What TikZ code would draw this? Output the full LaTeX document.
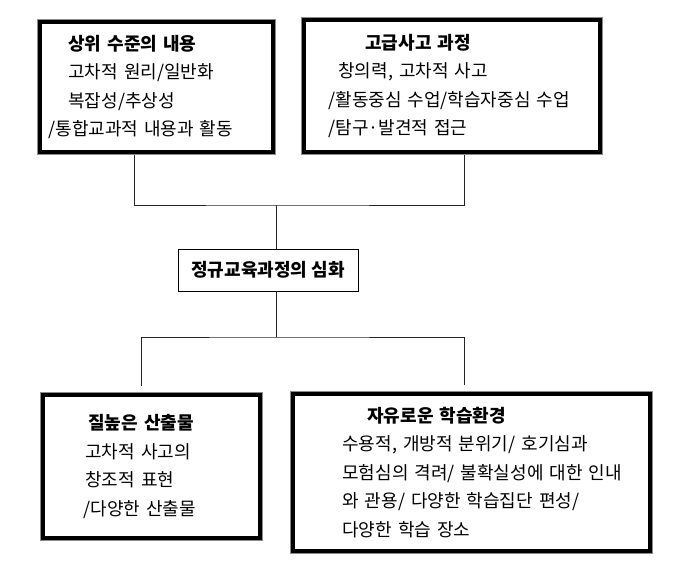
\documentclass[tikz,border=0pt]{standalone}
\usepackage{fontspec}
\setmainfont{Noto Sans CJK KR}
\begin{document}
\begin{tikzpicture}[
        x=1pt, y=1pt,
        every node/.style={font=\fontsize{18}{28.5}\selectfont},
        bigbox/.style={rectangle, draw=black!45, line width=0.8pt, anchor=north west,
            align=left, inner xsep=0pt, inner ysep=0pt,
            execute at begin node={\leftskip=#1\relax\parindent=0pt\relax}},
        corebox/.style={rectangle, draw, line width=0.8pt, minimum width=180pt, minimum height=42pt},
        link/.style={draw=black!85, line width=0.8pt}
    ]
    \useasboundingbox (0,0) rectangle (680,-574);

    \node[bigbox=11pt, text width=238pt, minimum height=135pt] (hi) at (37,-19) {
        \hspace*{20pt}\textbf{상위 수준의 내용}\\
        \hspace*{20pt}고차적 원리/일반화\\
        \hspace*{20pt}복잡성/추상성\\
        /통합교과적 내용과 활동};
    \node[bigbox=27pt, text width=301pt, minimum height=137pt] (pro) at (301,-17) {
        \hspace*{37pt}\textbf{고급사고 과정}\\
        \hspace*{10pt}창의력, 고차적 사고\\
        /활동중심 수업/학습자중심 수업\\
        /탐구·발견적 접근};
    \node[corebox] (core) at (268,-270) {\textbf{정규교육과정의 심화}};
    \node[bigbox=43pt, text width=222pt, minimum height=148pt] (out) at (40,-392) {
        \hspace*{5pt}\textbf{질높은 산출물}\\
        \hspace*{2pt}고차적 사고의\\
        \hspace*{2pt}창조적 표현\\
        /다양한 산출물};
    \node[bigbox=52pt, text width=362pt, minimum height=162pt] (env) at (290,-391) {
        \hspace*{25pt}\textbf{자유로운 학습환경}\\
        수용적, 개방적 분위기/ 호기심과\\
        모험심의 격려/ 불확실성에 대한 인내\\
        와 관용/ 다양한 학습집단 편성/\\
        다양한 학습 장소};

    % thick inner frame of the four outer boxes
    \foreach \b in {hi,pro,out,env}
        \draw[line width=3.4pt] ([shift={(3pt,-3pt)}]\b.north west) rectangle ([shift={(-3pt,3pt)}]\b.south east);

    \coordinate (jt) at (276,-205);
    \coordinate (jb) at (276,-337);
    \path[link] ([xshift=-22pt]hi.south) |- (jt) -| ([xshift=12.5pt]pro.south);
    \path[link] (jt) -- (jt |- core.north);
    \path[link] (jt |- core.south) -- (jb);
    \path[link, shorten <=6pt, shorten >=6pt] ([xshift=-10pt]out.north) |- (jb) -| ([xshift=-7pt]env.north);
\end{tikzpicture}
\end{document}
